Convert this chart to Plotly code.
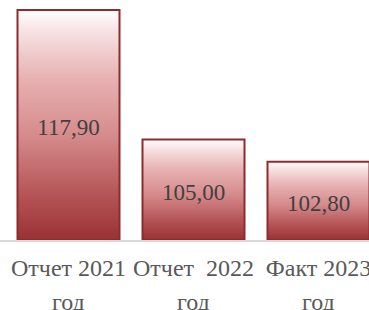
import plotly.graph_objects as go

categories_line1 = ["Отчет 2021", "Отчет\u00a0\u00a02022", "Факт 2023"]
categories_line2 = ["год", "год", "год"]
values = [117.90, 105.00, 102.80]
value_labels = ["117,90", "105,00", "102,80"]

y_min = 95.0
y_max = 95.0 + 240 / 10.04
bar_w = 0.816
font_fam = "'Liberation Serif', 'Times New Roman', serif"

fig = go.Figure()
scale = [[0.0, "#9a3134"], [0.2, "#b55557"], [0.45, "#d58a8b"], [0.7, "#e7b1b2"],
         [0.9, "#f6e0e1"], [1.0, "#ffffff"]]
for i, v in enumerate(values):
    xl, xr = i - bar_w / 2, i + bar_w / 2
    fig.add_trace(go.Scatter(
        x=[xl, xr, xr, xl, xl], y=[y_min, y_min, v, v, y_min],
        mode="lines", fill="toself",
        fillgradient=dict(type="vertical", colorscale=scale),
        line=dict(color="#8e2b2e", width=2),
        hoverinfo="skip", showlegend=False,
    ))
fig.add_trace(go.Scatter(
    x=list(range(len(values))), y=[(y_min + v) / 2 - 0.4 for v in values],
    mode="text", text=value_labels,
    textfont=dict(family=font_fam, size=23, color="#404040"),
    showlegend=False, hoverinfo="skip",
))
for i, t in enumerate(categories_line2):
    fig.add_annotation(x=i, y=0, xref="x", yref="paper", text=t, showarrow=False,
                       yanchor="middle", yshift=-62,
                       font=dict(family=font_fam, size=24, color="#595959"))

fig.update_layout(
    width=369, height=310,
    margin=dict(l=0, r=0, t=0, b=70, autoexpand=False),
    paper_bgcolor="white", plot_bgcolor="white",
    xaxis=dict(range=[-0.548, 2.404], tickvals=list(range(len(values))),
               ticktext=categories_line1, showgrid=False, zeroline=False,
               showline=True, linecolor="#d9d9d9", linewidth=2, automargin=False,
               tickfont=dict(family=font_fam, size=24, color="#595959"),
               ticks="", ticklabelstandoff=5, ticklabeloverflow="allow"),
    yaxis=dict(range=[y_min, y_max], visible=False, showgrid=False),
)
fig.write_html("out.html", config={"displayModeBar": False},
               post_script="document.body.style.margin='0';document.body.style.overflow='hidden';")
